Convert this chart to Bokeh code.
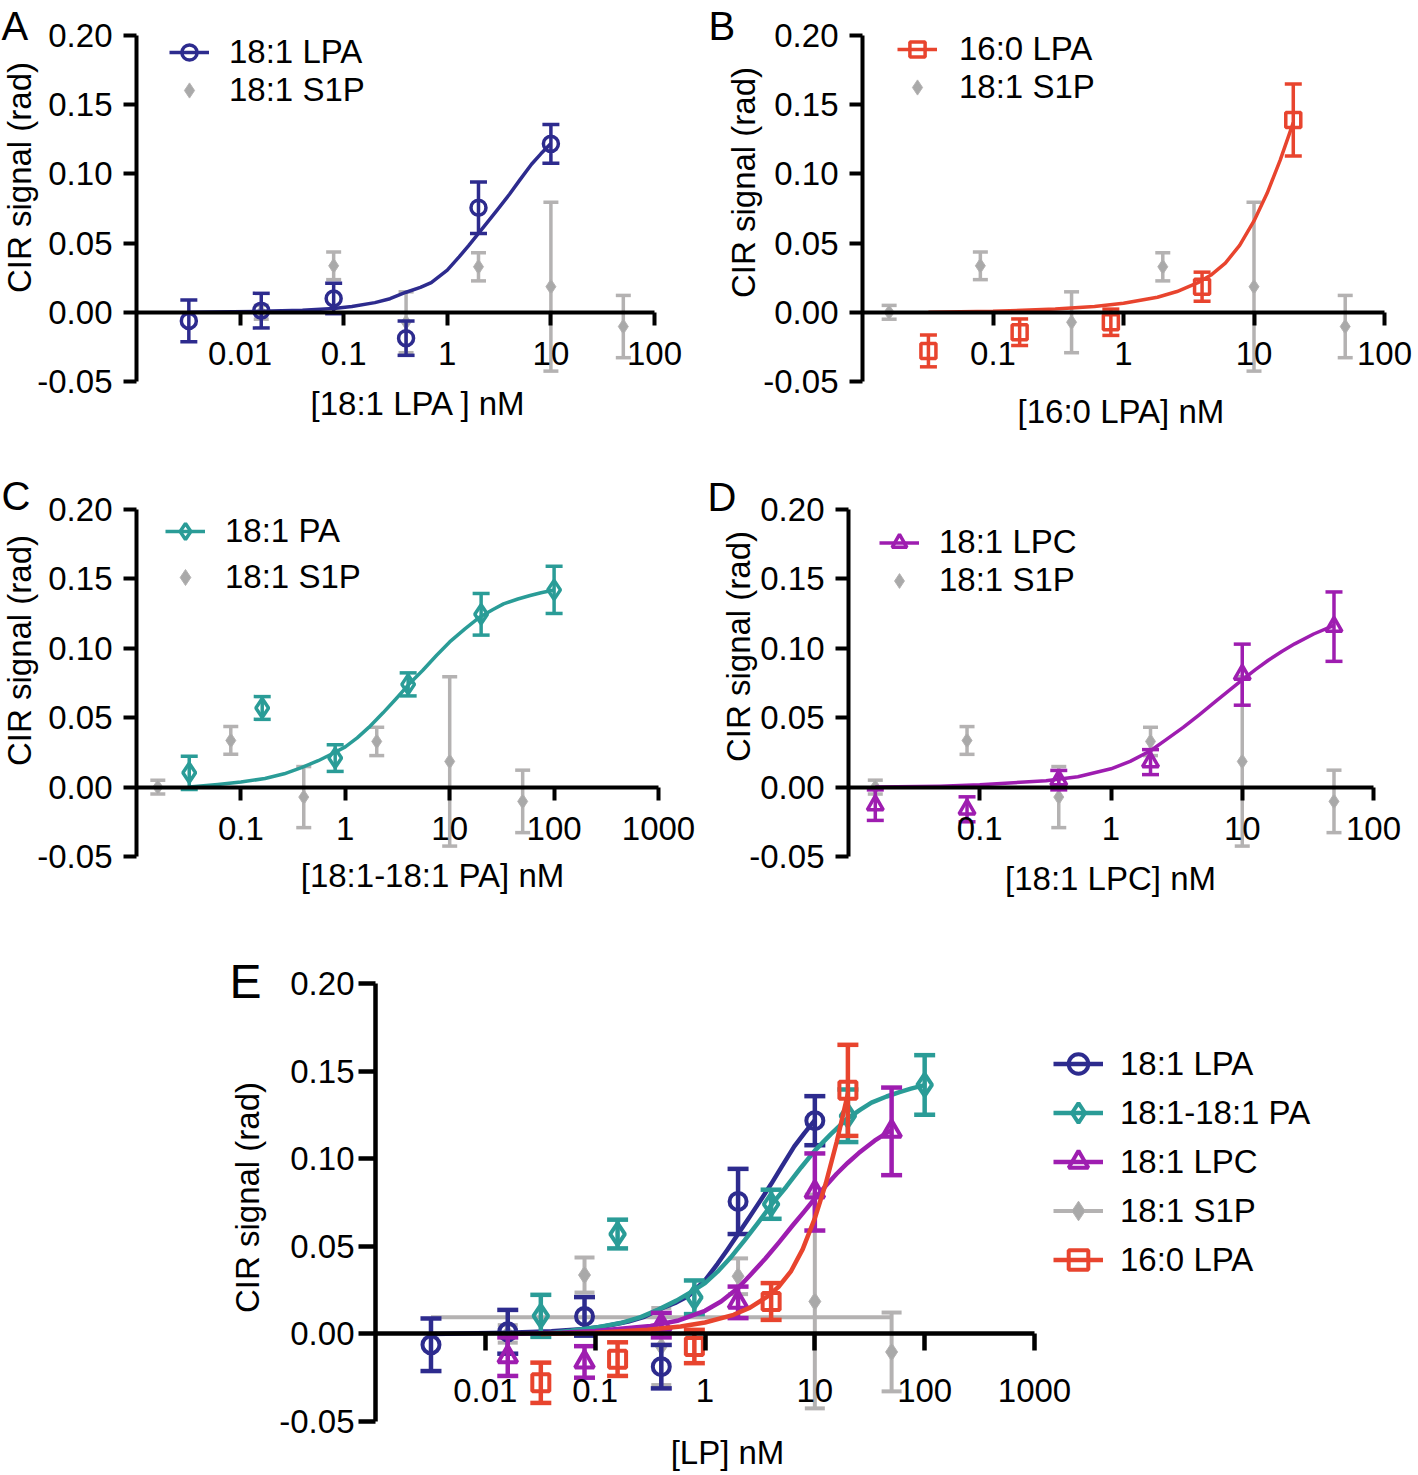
import math
from bokeh.plotting import figure
from bokeh.models import (ColumnDataSource, FixedTicker, PrintfTickFormatter, CustomJSTickFormatter,
                          Legend, LegendItem, Label, Range1d, Spacer)
from bokeh.layouts import column, row
from bokeh.embed import file_html
from bokeh.resources import INLINE

FONT = "Liberation Sans"

# ---------------- data ----------------
lpa181_x = [0.0032, 0.016, 0.08, 0.4, 2, 10]
lpa181_y = [-0.0062, 0.0012, 0.0100, -0.0187, 0.0756, 0.1217]
lpa181_err = [0.0150, 0.0125, 0.0110, 0.0124, 0.0186, 0.0140]
lpa181_fit_x = [0.0032, 0.016, 0.04, 0.08, 0.12, 0.2, 0.28, 0.4, 0.55, 0.7, 1.0, 1.3, 1.6, 2.0,
                2.5, 3.0, 4.0, 5.0, 6.5, 8.0, 10]
lpa181_fit_y = [0.0, 0.0007, 0.0015, 0.0028, 0.0042, 0.0070, 0.0098, 0.0145, 0.0180, 0.0215,
                0.0305, 0.0400, 0.0480, 0.0570, 0.0660, 0.0735, 0.0855, 0.0955, 0.1070, 0.1145,
                0.1220]

lpa160_x = [0.032, 0.16, 0.8, 4, 20]
lpa160_y = [-0.0279, -0.0144, -0.0072, 0.0185, 0.1390]
lpa160_err = [0.0115, 0.0096, 0.0095, 0.0105, 0.0260]
lpa160_fit_x = [0.032, 0.1, 0.3, 0.6, 1.0, 1.82, 2.57, 3.72, 4.68, 6.03, 7.76, 10, 12.6, 15.85,
                20]
lpa160_fit_y = [0.0, 0.0007, 0.0024, 0.0042, 0.0065, 0.0109, 0.0150, 0.0214, 0.0269, 0.0355,
                0.0484, 0.0660, 0.0860, 0.1098, 0.1370]

pa_x = [0.032, 0.16, 0.8, 4, 20, 100]
pa_y = [0.0103, 0.0570, 0.0209, 0.0740, 0.1245, 0.1421]
pa_err = [0.0120, 0.0082, 0.0096, 0.0083, 0.0150, 0.0170]
pa_fit_x = [0.032, 0.06, 0.1, 0.17, 0.26, 0.38, 0.55, 0.75, 1.0, 1.3, 1.68, 2.3, 3.05, 4.0, 5.5,
            7.5, 10, 14, 19.5, 26, 32.8, 45, 59, 75, 100]
pa_fit_y = [0.0, 0.0018, 0.0036, 0.0062, 0.0096, 0.0140, 0.0190, 0.0240, 0.0290, 0.0355, 0.0430,
            0.0535, 0.0635, 0.0735, 0.0840, 0.0950, 0.1046, 0.1140, 0.1226, 0.1280, 0.1320,
            0.1355, 0.1380, 0.1400, 0.1420]

lpc_x = [0.016, 0.08, 0.4, 2, 10, 50]
lpc_y = [-0.0130, -0.0160, 0.0050, 0.0180, 0.0810, 0.1156]
lpc_err = [0.0110, 0.0090, 0.0070, 0.0090, 0.0220, 0.0250]
lpc_fit_x = [0.016, 0.05, 0.1, 0.32, 0.56, 1.0, 1.4, 2.0, 2.6, 3.55, 4.7, 6.3, 8.0, 10, 12.6,
             15.8, 20, 25.1, 35, 50]
lpc_fit_y = [0.0, 0.0007, 0.0017, 0.0045, 0.0075, 0.0132, 0.0185, 0.0262, 0.0338, 0.0430,
             0.0521, 0.0620, 0.0698, 0.0773, 0.0846, 0.0914, 0.0977, 0.1032, 0.1103, 0.1165]

s1p_x = [0.016, 0.08, 0.4, 2, 10, 50]
s1p_y = [0.0, 0.0336, -0.0072, 0.0329, 0.0185, -0.0103]
s1p_err = [0.0050, 0.0100, 0.0220, 0.0102, 0.0610, 0.0225]
s1p_fit_x = [0.0032, 50]
s1p_fit_y = [0.0095, 0.0095]

y_ticks = [-0.05, 0.0, 0.05, 0.10, 0.15, 0.20]
y_span = (-0.05, 0.20)

xticks_A = [0.01, 0.1, 1, 10, 100]
xticks_B = [0.1, 1, 10, 100]
xticks_C = [0.1, 1, 10, 100, 1000]
xticks_D = [0.1, 1, 10, 100]
xticks_E = [0.01, 0.1, 1, 10, 100, 1000]
xspan_A = (0.001, 100)
xspan_B = (0.01, 100)
xspan_C = (0.01, 1000)
xspan_D = (0.01, 100)
xspan_E = (0.001, 1000)

BLUE = "#2D2B8E"
TEAL = "#2A9C97"
PURPLE = "#9E1DB0"
RED = "#E8442E"
GRAY = "#B4B2B2"
GRAYD = "#A9A9A9"

# ---------------- layout geometry (page pixels) ----------------
GA = dict(cx=0, cy=0, w=700, h=470, ax0=136, ax1=654, ay0=35, ay1=381)
GB = dict(cx=700, cy=0, w=718, h=470, ax0=862, ax1=1384, ay0=35, ay1=381)
GC = dict(cx=0, cy=470, w=700, h=480, ax0=136, ax1=658, ay0=509, ay1=856)
GD = dict(cx=700, cy=470, w=718, h=480, ax0=848, ax1=1373, ay0=509, ay1=856)
GE = dict(cx=200, cy=950, w=1218, h=522, ax0=375, ax1=1034, ay0=983, ay1=1421)


def S(g, px, py):
    """page pixel -> screen coords relative to the frame (== canvas) bottom-left"""
    return px - g["cx"], g["cy"] + g["h"] - py


def make_fig(g, xspan, xticks, tick_out, xstd, ystd, axw, fs):
    lx0, lx1 = math.log10(xspan[0]), math.log10(xspan[1])
    dpx = (g["ax1"] - g["ax0"]) / (lx1 - lx0)
    xs = 10 ** (lx0 - (g["ax0"] - g["cx"]) / dpx)
    xe = 10 ** (lx1 + (g["cx"] + g["w"] - g["ax1"]) / dpx)
    upp = (y_span[1] - y_span[0]) / (g["ay1"] - g["ay0"])
    ys = y_span[0] - (g["cy"] + g["h"] - g["ay1"]) * upp
    ye = y_span[1] + (g["ay0"] - g["cy"]) * upp
    p = figure(width=g["w"], height=g["h"], x_axis_type="log",
               x_range=Range1d(xs, xe), y_range=Range1d(ys, ye),
               output_backend="svg", toolbar_location=None, min_border=0)
    p.outline_line_color = None
    p.grid.visible = False
    p.background_fill_color = "white"
    p.border_fill_color = "white"
    for ax in (p.xaxis[0], p.yaxis[0]):
        ax.axis_line_width = axw
        ax.axis_line_color = "black"
        ax.major_tick_line_width = axw
        ax.major_tick_line_color = "black"
        ax.major_tick_in = 0
        ax.major_tick_out = tick_out
        ax.minor_tick_in = 0
        ax.minor_tick_out = 0
        ax.major_label_text_font = FONT
        ax.major_label_text_font_size = fs
        ax.major_label_text_color = "black"
    p.xaxis.major_label_standoff = xstd
    p.yaxis.major_label_standoff = ystd
    p.xaxis.fixed_location = 0
    p.xaxis.bounds = xspan
    p.yaxis.fixed_location = xspan[0]
    p.yaxis.bounds = y_span
    p.xaxis.ticker = FixedTicker(ticks=xticks, minor_ticks=[])
    p.xaxis.formatter = CustomJSTickFormatter(code="return tick.toString();")
    p.yaxis.ticker = FixedTicker(ticks=y_ticks, minor_ticks=[])
    p.yaxis.formatter = PrintfTickFormatter(format="%.2f")
    return p


def add_series(p, x, y, err, color, marker, size, fill, stroke, stem_w, cap, fit=None, fit_w=3):
    src = ColumnDataSource(dict(x=x, y=y,
                                lo=[a - b for a, b in zip(y, err)],
                                hi=[a + b for a, b in zip(y, err)]))
    line_r = None
    if fit is not None:
        line_r = p.line(fit[0], fit[1], line_color=color, line_width=fit_w, line_join="round")
    p.segment(x0="x", y0="lo", x1="x", y1="hi", source=src, line_color=color, line_width=stem_w)
    p.scatter(x="x", y="hi", marker="dash", size=cap, line_color=color, line_width=stem_w, source=src)
    p.scatter(x="x", y="lo", marker="dash", size=cap, line_color=color, line_width=stem_w, source=src)
    sc = p.scatter(x="x", y="y", marker=marker, size=size, line_color=color,
                   fill_color=fill, line_width=stroke, source=src)
    return line_r, sc


def add_legend(p, g, items, left, bottom, glyph_w, item_h, standoff, fs):
    lg = Legend(items=[LegendItem(label=t, renderers=r) for t, r in items],
                location=S(g, left, bottom),
                glyph_width=glyph_w, glyph_height=item_h, label_height=item_h,
                label_standoff=standoff, spacing=0, padding=0, margin=0,
                border_line_color=None, background_fill_alpha=0,
                label_text_font=FONT, label_text_font_size=fs, label_text_color="black")
    p.add_layout(lg)


def add_text(p, g, px, py, text, size, angle=0.0, align="center", baseline="middle"):
    sx, sy = S(g, px, py)
    p.add_layout(Label(x=sx, y=sy, x_units="screen", y_units="screen", text=text, angle=angle,
                       text_font=FONT, text_font_size=size, text_color="black",
                       text_align=align, text_baseline=baseline))


FS = "33px"

# ---------------- panel A ----------------
pA = make_fig(GA, xspan_A, xticks_A, 13, 17, 11, 4, FS)
_, gA = add_series(pA, s1p_x, s1p_y, s1p_err, GRAY, "diamond", 15, GRAYD, 1, 3.5, 15)
lA, sA = add_series(pA, lpa181_x, lpa181_y, lpa181_err, BLUE, "circle", 15, None, 3.5, 3.5, 17,
                    fit=(lpa181_fit_x, lpa181_fit_y), fit_w=3.5)
add_legend(pA, GA, [("18:1 LPA", [lA, sA]), ("18:1 S1P", [gA])], 169, 109, 40, 38, 20, FS)
add_text(pA, GA, 418, 403, "[18:1 LPA ] nM", FS)
add_text(pA, GA, 19, 177, "CIR signal (rad)", FS, angle=math.pi / 2)
add_text(pA, GA, 1, 25, "A", "40px", align="left")

# ---------------- panel B ----------------
pB = make_fig(GB, xspan_B, xticks_B, 13, 17, 11, 4, FS)
_, gB = add_series(pB, s1p_x, s1p_y, s1p_err, GRAY, "diamond", 15, GRAYD, 1, 3.5, 15)
lB, sB = add_series(pB, lpa160_x, lpa160_y, lpa160_err, RED, "square", 15, None, 3.5, 3.5, 17,
                    fit=(lpa160_fit_x, lpa160_fit_y), fit_w=3.5)
add_legend(pB, GB, [("16:0 LPA", [lB, sB]), ("18:1 S1P", [gB])], 897, 106, 40, 38, 22, FS)
add_text(pB, GB, 1125, 411, "[16:0 LPA]  nM", FS)
add_text(pB, GB, 743, 182, "CIR signal (rad)", FS, angle=math.pi / 2)
add_text(pB, GB, 708, 25, "B", "40px", align="left")

# ---------------- panel C ----------------
pC = make_fig(GC, xspan_C, xticks_C, 13, 17, 11, 4, FS)
_, gC = add_series(pC, s1p_x, s1p_y, s1p_err, GRAY, "diamond", 15, GRAYD, 1, 3.5, 15)
lC, sC = add_series(pC, pa_x, pa_y, pa_err, TEAL, "diamond", 19, None, 3.5, 3.5, 17,
                    fit=(pa_fit_x, pa_fit_y), fit_w=3.5)
add_legend(pC, GC, [("18:1 PA", [lC, sC]), ("18:1 S1P", [gC])], 165, 600, 40, 46, 20, FS)
add_text(pC, GC, 432, 875, "[18:1-18:1 PA] nM", FS)
add_text(pC, GC, 19, 650, "CIR signal (rad)", FS, angle=math.pi / 2)
add_text(pC, GC, 1, 495, "C", "40px", align="left")

# ---------------- panel D ----------------
pD = make_fig(GD, xspan_D, xticks_D, 13, 17, 11, 4, FS)
_, gD = add_series(pD, s1p_x, s1p_y, s1p_err, GRAY, "diamond", 15, GRAYD, 1, 3.5, 15)
lD, sD = add_series(pD, lpc_x, lpc_y, lpc_err, PURPLE, "triangle", 16, None, 3.5, 3.5, 17,
                    fit=(lpc_fit_x, lpc_fit_y), fit_w=3.5)
add_legend(pD, GD, [("18:1 LPC", [lD, sD]), ("18:1 S1P", [gD])], 879, 599, 40, 37, 20, FS)
add_text(pD, GD, 1110, 878, "[18:1 LPC] nM", FS)
add_text(pD, GD, 738, 646, "CIR signal (rad)", FS, angle=math.pi / 2)
add_text(pD, GD, 707, 496, "D", "40px", align="left")

# ---------------- panel E ----------------
pE = make_fig(GE, xspan_E, xticks_E, 17, 28, 4, 4.5, FS)
lEs, sEs = add_series(pE, s1p_x, s1p_y, s1p_err, GRAY, "diamond", 18, GRAYD, 1, 4, 20,
                      fit=(s1p_fit_x, s1p_fit_y), fit_w=4)
lE1, sE1 = add_series(pE, lpa181_x, lpa181_y, lpa181_err, BLUE, "circle", 17, None, 4, 4.5, 21,
                      fit=(lpa181_fit_x, lpa181_fit_y), fit_w=4.5)
lE2, sE2 = add_series(pE, pa_x, pa_y, pa_err, TEAL, "diamond", 22, None, 4, 4.5, 21,
                      fit=(pa_fit_x, pa_fit_y), fit_w=4.5)
lE3, sE3 = add_series(pE, lpc_x, lpc_y, lpc_err, PURPLE, "triangle", 19, None, 4, 4.5, 21,
                      fit=(lpc_fit_x, lpc_fit_y), fit_w=4.5)
lE4, sE4 = add_series(pE, lpa160_x, lpa160_y, lpa160_err, RED, "square", 17, None, 4, 4.5, 21,
                      fit=(lpa160_fit_x, lpa160_fit_y), fit_w=4.5)
add_legend(pE, GE, [("18:1 LPA", [lE1, sE1]), ("18:1-18:1 PA", [lE2, sE2]),
                    ("18:1 LPC", [lE3, sE3]), ("18:1 S1P", [lEs, sEs]),
                    ("16:0 LPA", [lE4, sE4])], 1053, 1284, 50, 49, 17, FS)
add_text(pE, GE, 727, 1452, "[LP] nM", FS)
add_text(pE, GE, 247, 1197, "CIR signal (rad)", FS, angle=math.pi / 2)
add_text(pE, GE, 229, 981, "E", "48px", align="left")

layout = column(row(pA, pB), row(pC, pD), row(Spacer(width=GE["cx"], height=GE["h"]), pE))

open("out.html", "w").write(file_html(layout, INLINE))
